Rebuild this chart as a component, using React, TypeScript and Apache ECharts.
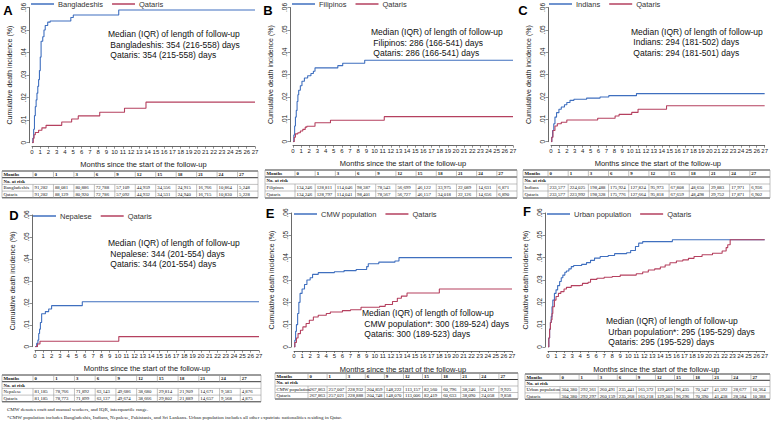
import React, { useEffect, useRef } from "react";
import * as echarts from "echarts";

const riskMonths = ["0", "1", "3", "6", "9", "12", "15", "18", "21", "24", "27"];

// Cumulative incidence curves: [month, incidence]
const bangladeshisCurve = [[0,0],[0.1,0.002],[0.2,0.006],[0.3,0.012],[0.4,0.016],[0.5,0.019],[0.6,0.022],[0.7,0.025],[0.8,0.028],[0.9,0.032],[1.0,0.038],[1.1,0.045],[1.3,0.047],[1.45,0.05],[1.6,0.052],[1.9,0.0535],[2.2,0.054],[4.7,0.0556],[5.0,0.0567],[10.5,0.0589],[27,0.0589]];
const qatarisCurveA = [[0,0],[0.15,0.002],[0.25,0.0035],[0.4,0.0045],[0.8,0.0055],[1.2,0.0066],[1.7,0.0077],[3.6,0.0092],[4.8,0.0105],[5.6,0.0119],[8.2,0.0135],[11.2,0.0153],[13.8,0.018],[27,0.018]];
const filipinosCurve = [[0,0],[0.1,0.003],[0.2,0.007],[0.3,0.011],[0.4,0.014],[0.5,0.018],[0.6,0.021],[0.7,0.023],[0.9,0.025],[1.1,0.027],[1.4,0.0285],[1.8,0.0295],[2.2,0.0305],[2.5,0.0315],[2.7,0.033],[5.5,0.034],[6.1,0.0351],[8.8,0.0364],[27,0.0364]];
const qatarisCurveB = [[0,0],[0.15,0.002],[0.3,0.0035],[0.6,0.004],[0.9,0.0048],[1.2,0.0055],[1.5,0.0065],[1.7,0.0069],[2.7,0.0085],[4.6,0.0096],[11.2,0.0112],[27,0.0112]];
const indiansCurve = [[0,0],[0.1,0.002],[0.2,0.005],[0.35,0.008],[0.5,0.011],[0.7,0.013],[1.0,0.0145],[1.3,0.0155],[1.7,0.0165],[2.0,0.0175],[2.4,0.0185],[2.9,0.019],[4.5,0.0195],[6.2,0.02],[7.3,0.0206],[10.8,0.0215],[27,0.0215]];
const qatarisCurveC = [[0,0],[0.1,0.002],[0.25,0.005],[0.5,0.007],[0.8,0.008],[1.3,0.0087],[2.0,0.0097],[5.9,0.0105],[8.1,0.0115],[8.6,0.0122],[10.2,0.0131],[11.0,0.0145],[14.6,0.0161],[27,0.0161]];
const nepaleseCurve = [[0,0],[0.2,0.0015],[0.35,0.003],[0.45,0.006],[0.55,0.008],[0.65,0.011],[0.8,0.015],[1.25,0.016],[1.65,0.0172],[2.0,0.0187],[5.7,0.0205],[27,0.0205]];
const qatarisCurveD = [[0,0],[0.3,0.0012],[0.6,0.0025],[10.1,0.0046],[27,0.0046]];
const cmwCurve = [[0,0],[0.1,0.003],[0.2,0.007],[0.3,0.01],[0.45,0.015],[0.6,0.02],[0.75,0.024],[1.0,0.026],[1.3,0.028],[1.6,0.03],[2.0,0.031],[2.3,0.0325],[3.0,0.0333],[5.0,0.0337],[6.2,0.0342],[7.7,0.0347],[9.0,0.036],[9.2,0.0373],[10.5,0.038],[12.5,0.0385],[13.0,0.04],[27,0.04]];
const qatarisCurveE = [[0,0],[0.1,0.002],[0.3,0.004],[0.5,0.006],[0.8,0.0075],[1.1,0.009],[1.5,0.0105],[1.9,0.012],[2.4,0.0134],[3.0,0.0142],[4.0,0.015],[4.5,0.0157],[6.0,0.0163],[7.0,0.0167],[8.3,0.0178],[10.6,0.0182],[11.3,0.019],[12.2,0.0204],[12.8,0.0218],[13.3,0.0228],[14.0,0.0242],[18.0,0.026],[27,0.026]];
const urbanCurve = [[0,0],[0.1,0.004],[0.2,0.008],[0.3,0.011],[0.4,0.0137],[0.5,0.018],[0.6,0.021],[0.8,0.024],[1.0,0.0256],[1.2,0.0275],[1.45,0.0293],[1.65,0.031],[1.85,0.0322],[2.1,0.0335],[2.3,0.034],[2.6,0.035],[2.9,0.036],[3.2,0.0365],[4.2,0.037],[4.8,0.0378],[5.3,0.0388],[5.8,0.0398],[6.5,0.0405],[7.5,0.041],[8.3,0.0418],[9.8,0.0422],[10.3,0.0432],[10.9,0.045],[11.3,0.0465],[11.8,0.0472],[15.5,0.048],[27,0.048]];
const qatarisCurveF = [[0,0],[0.1,0.004],[0.2,0.008],[0.3,0.011],[0.4,0.0122],[0.5,0.015],[0.6,0.018],[0.8,0.021],[1.0,0.0226],[1.3,0.024],[1.6,0.0248],[2.0,0.026],[2.3,0.0267],[2.9,0.0275],[4.0,0.0277],[4.3,0.0285],[5.0,0.029],[5.3,0.0303],[6.1,0.0308],[7.0,0.0312],[8.0,0.0316],[9.0,0.0322],[11.0,0.0328],[11.8,0.0336],[12.5,0.0345],[13.3,0.035],[14.0,0.0358],[14.6,0.0367],[15.2,0.0377],[16.0,0.0385],[16.8,0.039],[17.5,0.0397],[18.2,0.0405],[19.2,0.0413],[20.5,0.042],[21.7,0.043],[22.2,0.0445],[22.4,0.0458],[22.7,0.048],[27,0.048]];

// Number at risk
const bangladeshisRisk = ["91,282","88,081","80,886","72,788","57,109","44,959","34,556","24,915","16,766","10,864","5,248"];
const qatarisRiskA = ["91,282","88,129","80,920","72,786","57,092","44,932","34,531","24,940","16,715","10,830","5,228"];
const filipinosRisk = ["134,246","128,811","114,046","98,387","78,543","56,699","46,122","33,975","22,089","14,631","6,871"];
const qatarisRiskB = ["134,246","128,797","114,041","98,401","78,567","56,727","46,157","34,018","22,126","14,656","6,890"];
const indiansRisk = ["233,577","224,025","198,488","175,924","127,824","95,973","67,808","48,650","29,883","17,971","6,936"];
const qatarisRiskC = ["233,577","223,992","198,328","175,776","127,664","95,818","67,659","48,498","29,752","17,871","6,902"];
const nepaleseRisk = ["81,185","78,766","71,892","63,143","49,686","38,680","29,814","21,909","14,671","9,583","4,876"];
const qatarisRiskD = ["81,185","78,773","71,899","63,137","49,674","38,666","29,802","21,889","14,657","9,568","4,875"];
const cmwRisk = ["267,863","257,007","228,932","204,859","148,222","113,157","82,560","60,796","38,246","24,167","9,925"];
const qatarisRiskE = ["267,863","257,021","228,888","204,748","148,070","113,006","82,419","60,633","38,090","24,058","9,858"];
const urbanRisk = ["304,380","292,361","260,491","235,441","165,372","129,469","96,435","70,547","41,592","28,677","10,364"];
const qatarisRiskF = ["304,380","292,297","260,159","235,268","165,218","129,305","96,296","70,390","41,438","28,584","10,388"];

const BLUE = "#3f6fbf";
const RED = "#b5405f";
const SANS = "Liberation Sans, Arial, sans-serif";
const SERIF = "Liberation Serif, Times New Roman, serif";

const panels = [
  { letter: "A", group: "Bangladeshis", curve: bangladeshisCurve, qCurve: qatarisCurveA, risk: bangladeshisRisk, qRisk: qatarisRiskA,
    note: ["Median (IQR) of length of follow-up", " Bangladeshis: 354 (216-558) days", " Qataris: 354 (215-558) days"],
    g: { x0: 32, x1: 255, top: 6, bottom: 142.7 }, legend: { left: 31, top: 0 }, letterPos: [8, 10], notePos: [108, 29],
    table: { x: 2, y: 171, w: 256, first: 31, rowH: 6.7 } },
  { letter: "B", group: "Filipinos", curve: filipinosCurve, qCurve: qatarisCurveB, risk: filipinosRisk, qRisk: qatarisRiskB,
    note: ["Median (IQR) of length of follow-up", " Filipinos: 286 (166-541) days", " Qataris: 286 (166-541) days"],
    g: { x0: 293, x1: 513, top: 4, bottom: 141.7 }, legend: { left: 292, top: 0 }, letterPos: [268, 10], notePos: [371, 27],
    table: { x: 265, y: 170, w: 252, first: 30, rowH: 7 } },
  { letter: "C", group: "Indians", curve: indiansCurve, qCurve: qatarisCurveC, risk: indiansRisk, qRisk: qatarisRiskC,
    note: ["Median (IQR) of length of follow-up", " Indians: 294 (181-502) days", " Qataris: 294 (181-501) days"],
    g: { x0: 551, x1: 765, top: 4, bottom: 141.7 }, legend: { left: 549, top: 0 }, letterPos: [523, 10], notePos: [631, 26.5],
    table: { x: 523, y: 170, w: 247, first: 25, rowH: 7 } },
  { letter: "D", group: "Nepalese", curve: nepaleseCurve, qCurve: qatarisCurveD, risk: nepaleseRisk, qRisk: qatarisRiskD,
    note: ["Median (IQR) of length of follow-up", " Nepalese: 344 (201-554) days", " Qataris: 344 (201-554) days"],
    g: { x0: 35, x1: 259, top: 215, bottom: 346.7 }, legend: { left: 33, top: 212 }, letterPos: [14, 215], notePos: [108, 238],
    table: { x: 2, y: 375, w: 259, first: 31, rowH: 6.7 } },
  { letter: "E", group: "CMW population", curve: cmwCurve, qCurve: qatarisCurveE, risk: cmwRisk, qRisk: qatarisRiskE,
    note: ["Median (IQR) of length of follow-up", " CMW population*: 300 (189-524) days", " Qataris: 300 (189-523) days"],
    g: { x0: 294, x1: 512, top: 213, bottom: 347 }, legend: { left: 294, top: 210 }, letterPos: [270, 213], notePos: [362, 308],
    table: { x: 275, y: 373, w: 243, first: 33, rowH: 6.5 } },
  { letter: "F", group: "Urban population", curve: urbanCurve, qCurve: qatarisCurveF, risk: urbanRisk, qRisk: qatarisRiskF,
    note: ["Median (IQR) of length of follow-up", " Urban population*: 295 (195-529) days", " Qataris: 295 (195-529) days"],
    g: { x0: 548, x1: 765, top: 213, bottom: 347 }, legend: { left: 547, top: 210 }, letterPos: [527, 211], notePos: [606, 316],
    table: { x: 525, y: 374, w: 245, first: 35, rowH: 6.3 } },
];

const footnote1 = "CMW denotes craft and manual workers, and IQR, interquartile range.";
const footnote2 = "*CMW population includes Bangladeshis, Indians, Nepalese, Pakistanis, and Sri Lankans. Urban population includes all other expatriate nationalities residing in Qatar.";

function tableGraphics(p: any) {
  const t = p.table;
  const els: any[] = [];
  const colW = (t.w - t.first) / riskMonths.length;
  const x1 = t.x + t.w;
  const dark = "#222";
  const light = "#999";
  const hline = (y: number, color: string, w: number) =>
    els.push({ type: "line", shape: { x1: t.x, y1: y, x2: x1, y2: y }, style: { stroke: color, lineWidth: w }, silent: true });
  const vline = (x: number, y1: number, y2: number, color: string) =>
    els.push({ type: "line", shape: { x1: x, y1, x2: x, y2 }, style: { stroke: color, lineWidth: 0.6 }, silent: true });
  const txt = (s: string, x: number, y: number, bold: boolean) =>
    els.push({ type: "text", x, y, style: { text: s, fontSize: 4.8, fontFamily: SERIF, fontWeight: bold ? "bold" : "normal", fill: "#111", align: "left", verticalAlign: "middle" }, silent: true });
  const r = t.rowH;
  hline(t.y, dark, 0.9);
  hline(t.y + r, dark, 0.9);
  hline(t.y + 2 * r, light, 0.6);
  hline(t.y + 3 * r, light, 0.6);
  hline(t.y + 4 * r, dark, 0.9);
  vline(t.x, t.y, t.y + 4 * r, light);
  vline(x1, t.y, t.y + 4 * r, light);
  for (let i = 0; i < riskMonths.length; i++) {
    const cx = t.x + t.first + i * colW;
    vline(cx, t.y, t.y + r, light);
    vline(cx, t.y + 2 * r, t.y + 4 * r, light);
    txt(riskMonths[i], cx + 1.5, t.y + r / 2, true);
    txt(p.risk[i], cx + 1.5, t.y + 2.5 * r, false);
    txt(p.qRisk[i], cx + 1.5, t.y + 3.5 * r, false);
  }
  txt("Months", t.x + 1.5, t.y + r / 2, true);
  txt("No. at risk", t.x + 1.5, t.y + 1.5 * r, true);
  txt(p.group, t.x + 1.5, t.y + 2.5 * r, false);
  txt("Qataris", t.x + 1.5, t.y + 3.5 * r, false);
  return els;
}

export default function App() {
  const ref = useRef<HTMLDivElement>(null);
  useEffect(() => {
    if (!ref.current) return;
    const chart = echarts.init(ref.current, undefined, { renderer: "svg" });
    const graphics: any[] = [];
    panels.forEach((p) => {
      graphics.push({ type: "text", x: p.letterPos[0], y: p.letterPos[1], style: { text: p.letter, fontSize: 13, fontWeight: "bold", fontFamily: SANS, fill: "#000", align: "center", verticalAlign: "middle" } });
      graphics.push({ type: "text", x: p.notePos[0], y: p.notePos[1], style: { text: p.note.join("\n"), fontSize: 8.5, lineHeight: 10.5, fontFamily: SANS, fill: "#111", align: "left", verticalAlign: "top" } });
      graphics.push(...tableGraphics(p));
    });
    graphics.push({ type: "text", x: 7, y: 409, style: { text: footnote1, fontSize: 5, fontFamily: SERIF, fill: "#222", align: "left", verticalAlign: "middle" } });
    graphics.push({ type: "text", x: 7, y: 417, style: { text: footnote2, fontSize: 5, fontFamily: SERIF, fill: "#222", align: "left", verticalAlign: "middle" } });

    const option: any = {
      animation: false,
      backgroundColor: "#fff",
      grid: panels.map((p) => ({ left: p.g.x0, top: p.g.top, width: p.g.x1 - p.g.x0, height: p.g.bottom - p.g.top })),
      xAxis: panels.map((p, i) => ({
        type: "value", gridIndex: i, min: 0, max: 27, interval: 1, offset: 4,
        axisLine: { show: true, onZero: false, lineStyle: { color: "#444", width: 0.8 } },
        axisTick: { show: true, length: 2, lineStyle: { color: "#444", width: 0.6 } },
        axisLabel: { fontSize: 6, margin: 2, color: "#222", fontFamily: SANS },
        splitLine: { show: false },
        name: "Months since the start of the follow-up", nameLocation: "middle", nameGap: 14,
        nameTextStyle: { fontSize: 7.5, color: "#222", fontFamily: SANS },
      })),
      yAxis: panels.map((p, i) => ({
        type: "value", gridIndex: i, min: 0, max: 0.06, interval: 0.01, offset: 3,
        axisLine: { show: true, onZero: false, lineStyle: { color: "#444", width: 0.8 } },
        axisTick: { show: true, length: 2.5, lineStyle: { color: "#444", width: 0.6 } },
        axisLabel: { fontSize: 6.5, margin: 2, rotate: 90, color: "#222", fontFamily: SANS,
          formatter: (v: number) => (v === 0 ? "0" : v.toFixed(2).replace(/^0/, "")) },
        splitLine: { show: false },
        name: "Cumulative death incidence (%)", nameLocation: "middle", nameGap: 16,
        nameTextStyle: { fontSize: 7, color: "#222", fontFamily: SANS },
      })),
      legend: panels.map((p) => ({
        left: p.legend.left, top: p.legend.top, data: [p.group, "Qataris"], icon: "rect",
        itemWidth: 23, itemHeight: 1.5, itemGap: 9, selectedMode: false, padding: 0,
        textStyle: { fontSize: 7.5, color: "#333", fontFamily: SANS, padding: [0, 0, 0, -1] },
      })),
      series: panels.flatMap((p, i) => [
        { name: p.group, type: "line", xAxisIndex: i, yAxisIndex: i, step: "end", showSymbol: false, data: p.curve,
          color: BLUE, lineStyle: { color: BLUE, width: 1.1 } },
        { name: "Qataris", type: "line", xAxisIndex: i, yAxisIndex: i, step: "end", showSymbol: false, data: p.qCurve,
          color: RED, lineStyle: { color: RED, width: 1.1 } },
      ]),
      graphic: graphics,
    };
    chart.setOption(option);
    return () => chart.dispose();
  }, []);
  return <div ref={ref} style={{ position: "fixed", left: 0, top: 0, width: 771, height: 424, background: "#fff" }} />;
}
